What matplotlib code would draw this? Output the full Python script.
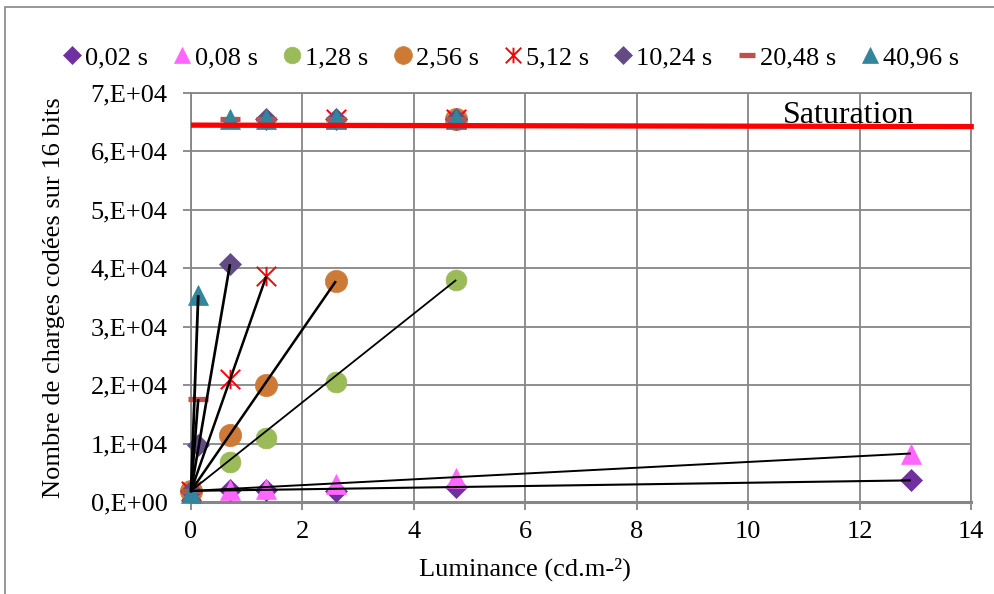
import numpy as np
import matplotlib.pyplot as plt
from matplotlib.path import Path
from matplotlib.patches import Rectangle

plt.rcParams['font.family'] = ['Liberation Serif', 'DejaVu Serif']

# luminance values (cd.m-2)
lum = [0, 0.13, 0.70, 1.35, 2.60, 4.76, 12.92]
nan = np.nan

# charges coded on 16 bits for each exposure time
labels = ['0,02 s', '0,08 s', '1,28 s', '2,56 s', '5,12 s', '10,24 s', '20,48 s', '40,96 s']
y_002 = [1900, nan, 2100, 2000, 1900, 2500, 3700]
y_008 = [1900, nan, 2100, 2300, 3000, 4100, 8300]
y_128 = [1900, nan, 6800, 11000, 20600, 38000, nan]
y_256 = [1900, nan, 11400, 20100, 37800, 65535, nan]
y_512 = [1900, nan, 21000, 38600, 65535, 65535, nan]
y_1024 = [1900, 9800, 40700, 65535, 65535, 65535, nan]
y_2048 = [1900, 17600, 65535, 65535, 65535, 65535, nan]
y_4096 = [1600, 35400, 65535, 65535, 65535, 65535, nan]
series = [y_002, y_008, y_128, y_256, y_512, y_1024, y_2048, y_4096]

# saturation level line
sat_x = [0, 14.05]
sat_y = [64500, 64250]

yticks = [0, 10000, 20000, 30000, 40000, 50000, 60000, 70000]
ytick_labels = ['0,E+00', '1,E+04', '2,E+04', '3,E+04', '4,E+04', '5,E+04', '6,E+04', '7,E+04']
xticks = [0, 2, 4, 6, 8, 10, 12, 14]

# excel-like star marker : X with a vertical bar
star = Path([(-1, -1), (1, 1), (-1, 1), (1, -1), (0, -1), (0, 1)],
            [Path.MOVETO, Path.LINETO, Path.MOVETO, Path.LINETO, Path.MOVETO, Path.LINETO])

styles = [
    dict(marker='D', ms=11.3, color='#7030A0'),
    dict(marker='^', ms=14.5, color='#FF66FF'),
    dict(marker='o', ms=15, color='#9BBB59'),
    dict(marker='o', ms=16, color='#CD7A36'),
    dict(marker=star, ms=14, color='#FF0000', mew=1.4),
    dict(marker='D', ms=11.7, color='#634C84'),
    dict(marker='_', ms=14.5, color='#C0504D', mew=3.8),
    dict(marker='^', ms=15, color='#31859C'),
]
line_w = [1.5, 1.4, 1.3, 1.8, 1.8, 1.9, 1.9, 2.0]

fig = plt.figure(figsize=(9.95, 5.94), dpi=100)
ax = fig.add_axes([191/995, 1-502/594, 780/995, 409/594])

gray = '#868686'
handles = []
for i, ys in enumerate(series):
    st = dict(styles[i])
    mew = st.pop('mew', 0.5)
    h, = ax.plot(lum, ys, ls='none', label=labels[i], mec=st['color'], mfc=st['color'],
                 mew=mew, marker=st['marker'], ms=st['ms'], clip_on=False, zorder=3 + i * 0.1)
    handles.append(h)

# black lines from first point to last non saturated point
for i, ys in enumerate(series):
    xs = np.array(lum)
    ya = np.array(ys, dtype=float)
    ok = ~np.isnan(ya) & (ya < 65000)
    ax.plot([xs[ok][0], xs[ok][-1]], [ya[ok][0], ya[ok][-1]], color='black',
            lw=line_w[i], zorder=5, clip_on=False, solid_capstyle='butt')

ax.plot(sat_x, sat_y, color='#FF0000', lw=3.8, zorder=6, clip_on=False, solid_capstyle='butt')
ax.text(11.8, 64820, 'Saturation', fontsize=23, ha='center', va='baseline', zorder=7)

ax.set_xlim(0, 14)
ax.set_ylim(0, 70000)
ax.set_xticks(xticks)
ax.set_xticklabels([str(v) for v in xticks])
ax.set_yticks(yticks)
ax.set_yticklabels(ytick_labels)
ax.grid(True, color=gray, lw=1.3)
ax.set_axisbelow(True)
for s in ax.spines.values():
    s.set_color(gray)
    s.set_linewidth(1.3)
ax.spines['bottom'].set_linewidth(2.2)
ax.tick_params(axis='both', colors=gray, labelcolor='black', labelsize=19, length=6, width=1.3)
ax.tick_params(axis='y', pad=11)
ax.tick_params(axis='x', pad=8)

fig.text(525/995, 1-569/594, 'Luminance (cd.m-²)', fontsize=19, ha='center', va='center')
fig.text(54/995, 1-298/594, 'Nombre de charges codées sur 16 bits', fontsize=19,
         rotation=90, ha='center', va='center')

fig.legend(handles=handles, ncol=8, loc='center', bbox_to_anchor=(511/995, 1-58/594),
           bbox_transform=fig.transFigure, frameon=False, fontsize=19, markerscale=0.8,
           handlelength=0.7, handletextpad=0.15, columnspacing=0.94, borderpad=0)

fig.patches.append(Rectangle((5/995, -0.1), 2, 1.1 - 7/594, transform=fig.transFigure,
                             fill=False, ec=gray, lw=1.2))

fig.savefig('out.png', dpi=100)
